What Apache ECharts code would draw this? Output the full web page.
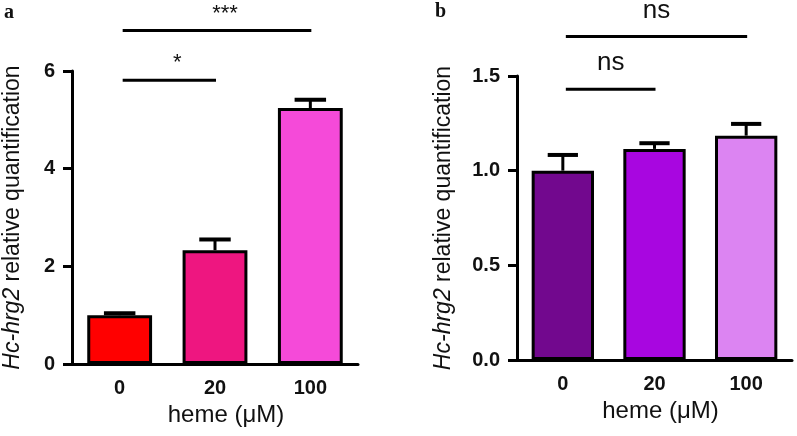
<!DOCTYPE html>
<html><head><meta charset="utf-8">
<script src="https://cdn.jsdelivr.net/npm/echarts@6/dist/echarts.min.js"></script>
<style>html,body{margin:0;padding:0;background:#fff}#c{width:797px;height:436px}</style>
</head><body><div id="c"></div>
<script>
var categories = ['0', '20', '100'];
var meansA = [1.0, 2.33, 5.24];
var errTopA = [1.04, 2.55, 5.41];
var colorsA = ['#ff0000', '#ee1680', '#f54ad9'];
var meansB = [1.0, 1.115, 1.185];
var errTopB = [1.083, 1.145, 1.247];
var colorsB = ['#72088e', '#a806e0', '#dc84f2'];
var ticksA = {min: 0, max: 6, interval: 2};
var ticksB = {min: 0, max: 1.5, interval: 0.5};
var bracketsA = [[0, 1, 5.81, '*'], [0, 2, 6.83, '***']];
var bracketsB = [[0, 1, 1.43, 'ns'], [0, 2, 1.708, 'ns']];
var xName = 'heme (μM)';
var yName = '{i|Hc-hrg2} relative quantification';

var FONT = 'Liberation Sans';
var chart = echarts.init(document.getElementById('c'), null, {renderer: 'canvas'});

function xAxisCfg(gi) {
  return {
    type: 'category', gridIndex: gi, data: categories,
    axisLine: {lineStyle: {color: '#000', width: 3}},
    axisTick: {alignWithLabel: true, length: 9, lineStyle: {width: 3, color: '#000'}},
    axisLabel: {color: '#111', fontFamily: FONT, fontWeight: 'bold', fontSize: 20, margin: 14},
    name: xName, nameLocation: 'middle', nameGap: 37,
    nameTextStyle: {color: '#111', fontFamily: FONT, fontSize: 24, padding: [0, 0, 0, gi === 0 ? 22 : 12]}
  };
}
function yAxisCfg(gi, t, gap, fmt) {
  return {
    type: 'value', gridIndex: gi, min: t.min, max: t.max, interval: t.interval,
    splitLine: {show: false},
    axisLine: {show: true, lineStyle: {color: '#000', width: 3}},
    axisTick: {show: true, length: 9, lineStyle: {width: 3, color: '#000'}},
    axisLabel: {color: '#111', fontFamily: FONT, fontWeight: 'bold', fontSize: 20, margin: 17, formatter: fmt},
    name: yName, nameLocation: 'middle', nameGap: gap, nameRotate: 90,
    nameTextStyle: {color: '#111', fontFamily: FONT, fontSize: 23,
      rich: {i: {fontStyle: 'italic', fontFamily: FONT, fontSize: 23, color: '#111'}}}
  };
}
function barSeries(gi, means, colors) {
  return {
    type: 'bar', xAxisIndex: gi, yAxisIndex: gi, barWidth: '68%',
    data: means.map(function (v, i) {
      return {value: v, itemStyle: {color: colors[i], borderColor: '#000', borderWidth: 3}};
    }),
    z: 3
  };
}
function errSeries(gi, means, tops) {
  return {
    type: 'custom', xAxisIndex: gi, yAxisIndex: gi, z: 2,
    data: means.map(function (v, i) { return [i, v, tops[i]]; }),
    renderItem: function (params, api) {
      var p0 = api.coord([api.value(0), api.value(1)]);
      var p1 = api.coord([api.value(0), api.value(2)]);
      var hw = api.size([1, 0])[0] * 0.165;
      return {type: 'group', children: [
        {type: 'line', shape: {x1: p0[0], y1: p0[1], x2: p1[0], y2: p1[1]}, style: {stroke: '#000', lineWidth: 3}},
        {type: 'line', shape: {x1: p1[0] - hw, y1: p1[1], x2: p1[0] + hw, y2: p1[1]}, style: {stroke: '#000', lineWidth: 4}}
      ]};
    }
  };
}
function bracketSeries(gi, br) {
  return {
    type: 'custom', xAxisIndex: gi, yAxisIndex: gi, clip: false, z: 5,
    data: br.map(function (b) { return [b[0], b[1], b[2]]; }),
    renderItem: function (params, api) {
      var a = api.coord([api.value(0), api.value(2)]);
      var b = api.coord([api.value(1), api.value(2)]);
      var lab = br[params.dataIndex][3];
      var isStar = lab.indexOf('*') >= 0;
      return {type: 'group', children: [
        {type: 'line', shape: {x1: a[0] + 3, y1: a[1], x2: b[0] + 1, y2: b[1]}, style: {stroke: '#000', lineWidth: 3}},
        {type: 'text', x: (a[0] + b[0]) / 2 + (isStar ? 10 : 2), y: a[1] - (isStar ? 17 : 26),
          style: {text: lab, fill: '#111', font: (isStar ? '22px ' : '26px ') + FONT, align: 'center', verticalAlign: 'middle'}}
      ]};
    }
  };
}

chart.setOption({
  animation: false,
  backgroundColor: '#fff',
  title: [
    {text: 'a', left: 4, top: 3, padding: 0, textStyle: {fontFamily: 'Liberation Serif', fontWeight: 'bold', fontSize: 20, color: '#111'}},
    {text: 'b', left: 435, top: 2, padding: 0, textStyle: {fontFamily: 'Liberation Serif', fontWeight: 'bold', fontSize: 20, color: '#111'}}
  ],
  grid: [
    {left: 70, right: 439, top: 71, bottom: 72},
    {left: 517, right: 5, top: 76, bottom: 76}
  ],
  xAxis: [xAxisCfg(0), xAxisCfg(1)],
  yAxis: [
    yAxisCfg(0, ticksA, 48, function (v) { return String(v); }),
    yAxisCfg(1, ticksB, 62, function (v) { return v.toFixed(1); })
  ],
  series: [
    barSeries(0, meansA, colorsA), errSeries(0, meansA, errTopA), bracketSeries(0, bracketsA),
    barSeries(1, meansB, colorsB), errSeries(1, meansB, errTopB), bracketSeries(1, bracketsB)
  ]
});
</script></body></html>
